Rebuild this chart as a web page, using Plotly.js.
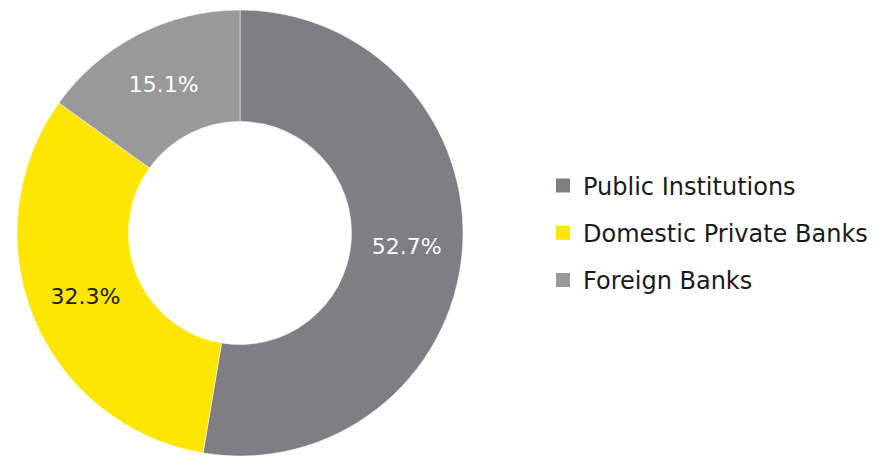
<!DOCTYPE html>
<html>
<head>
<meta charset="utf-8">
<script src="https://cdn.plot.ly/plotly-3.0.1.min.js"></script>
<style>html,body{margin:0;padding:0;background:#fff;}#chart{width:874px;height:456px;}</style>
</head>
<body>
<div id="chart"></div>
<script>
const labels = ["Public Institutions", "Domestic Private Banks", "Foreign Banks"];
const values = [52.7, 32.3, 15.1];
const valueText = ["52.7%", "32.3%", "15.1%"];
const colors = ["#7f7e83", "#ffe600", "#999999"];
const textColors = ["#ffffff", "#1a1a1a", "#ffffff"];

const W = 874, H = 456;
const FONT = "'DejaVu Sans', sans-serif";
const traces = [{
  type: "pie",
  labels: labels,
  values: values,
  text: valueText,
  textinfo: "text",
  textposition: "inside",
  insidetextorientation: "horizontal",
  hole: 0.5,
  sort: false,
  direction: "clockwise",
  rotation: 0,
  marker: { colors: colors, line: { color: "#ffffff", width: 0.5 } },
  insidetextfont: { family: FONT, size: 22, color: textColors },
  showlegend: false,
  domain: { x: [16 / W, 464 / W], y: [0, (H - 10) / H] }
}];
labels.forEach((lab, i) => {
  traces.push({
    type: "scatter", mode: "markers", x: [null], y: [null],
    name: lab, legendgroup: "g" + i,
    marker: { symbol: "square", size: 14, color: colors[i] },
    hoverinfo: "skip"
  });
});

const layout = {
  width: W, height: H,
  margin: { l: 0, r: 0, t: 0, b: 0 },
  paper_bgcolor: "#ffffff", plot_bgcolor: "#ffffff",
  xaxis: { visible: false, domain: [0.99, 1] },
  yaxis: { visible: false, domain: [0.99, 1] },
  showlegend: true,
  legend: {
    x: 543 / W, xanchor: "left",
    y: 1 - 233 / H, yanchor: "middle",
    font: { family: FONT, size: 24, color: "#1a1a1a" },
    tracegroupgap: 13,
    bgcolor: "rgba(0,0,0,0)"
  }
};
Plotly.newPlot("chart", traces, layout, { displayModeBar: false, staticPlot: true });
</script>
</body>
</html>
